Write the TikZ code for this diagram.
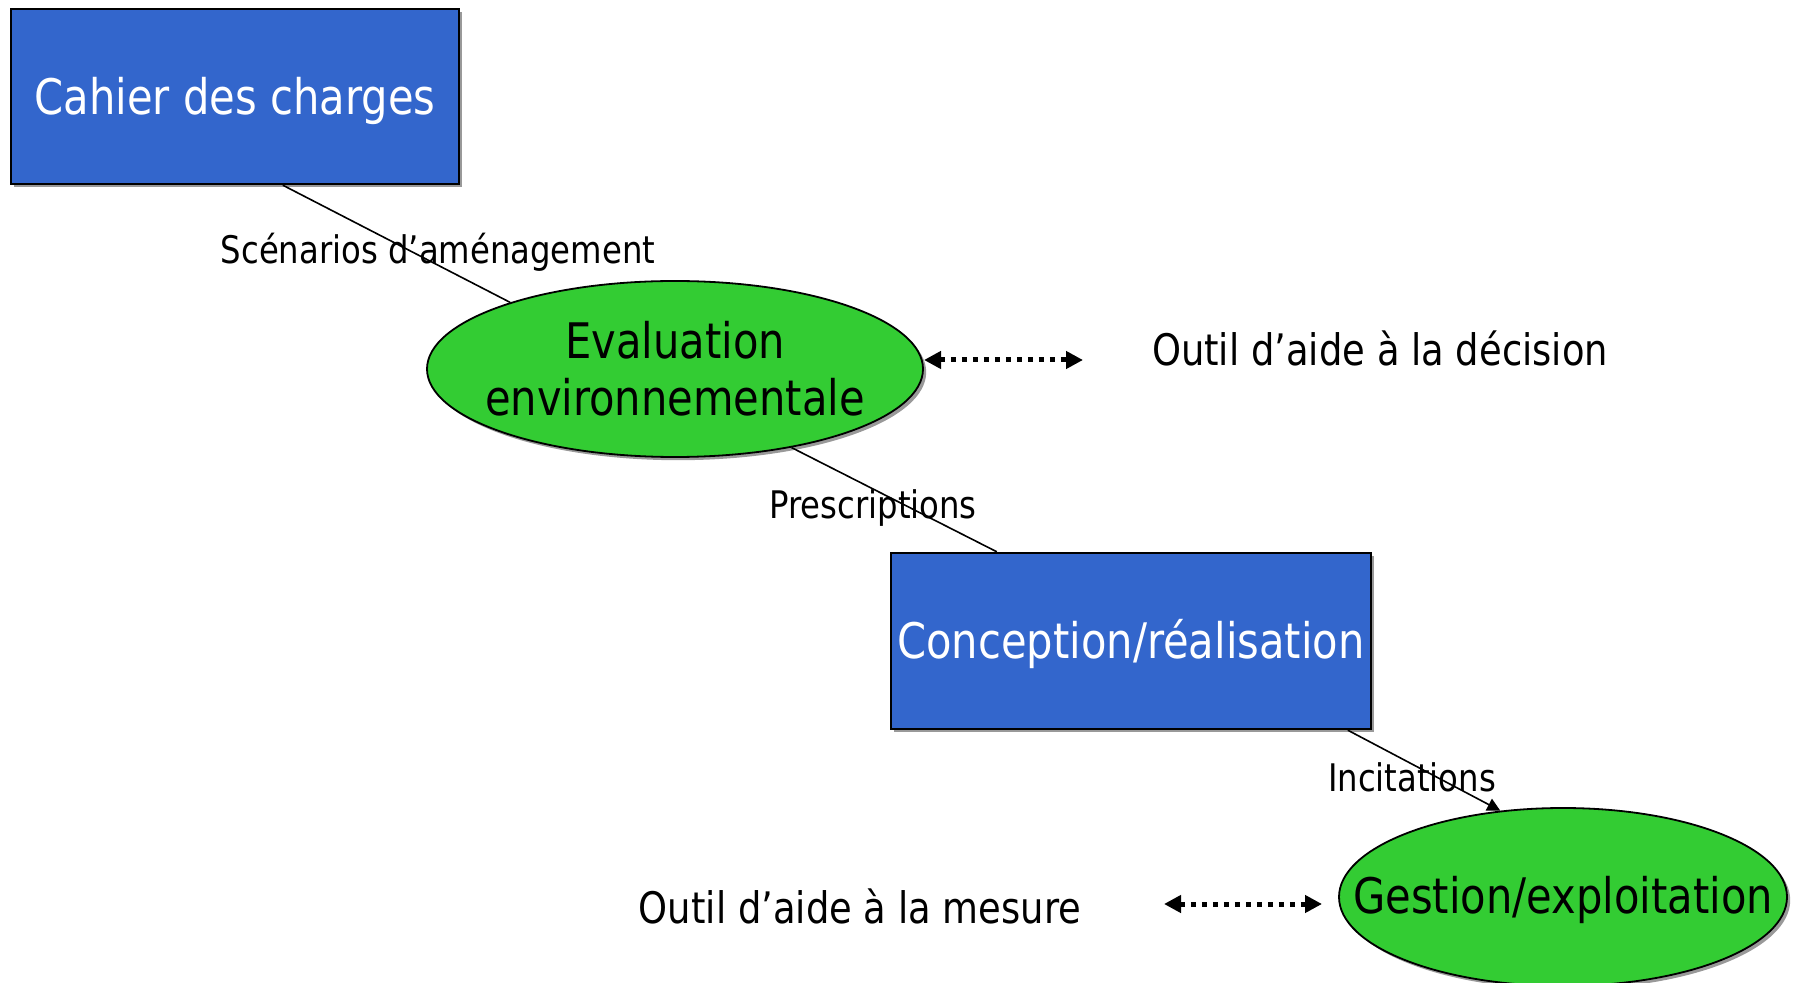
\documentclass[tikz,border=0pt]{standalone}
\usepackage{fontspec}
\setmainfont[FakeStretch=0.85]{DejaVu Sans}
\usetikzlibrary{shapes.geometric,shadows,arrows.meta,calc}
\definecolor{boxblue}{HTML}{3366CC}
\definecolor{ellgreen}{HTML}{33CC33}
\newcommand{\lowerby}[2]{\raisebox{-#1}[\height][\depth]{#2}}
\begin{document}
\begin{tikzpicture}[x=0.5pt,y=-0.5pt,
  shad/.style={drop shadow={shadow xshift=1.6pt,shadow yshift=-1.6pt,fill=gray!80,opacity=1}},
  bluebox/.style={rectangle,draw=black,line width=1.2pt,fill=boxblue,text=white,shad,
    inner sep=0pt,font=\fontsize{24.5pt}{28.5pt}\selectfont},
  greenell/.style={ellipse,draw=black,line width=0.9pt,fill=ellgreen,text=black,shad,
    inner sep=0pt,font=\fontsize{24.5pt}{28.5pt}\selectfont},
  lab/.style={inner sep=0pt,font=\fontsize{19pt}{22pt}\selectfont},
  biglab/.style={inner sep=0pt,font=\fontsize{21.7pt}{25pt}\selectfont},
  conn/.style={draw=black,line width=0.8pt},
  dotarrow/.style={line width=2.5pt,dash pattern=on 2.5pt off 3pt,
    {Triangle[length=8.5pt,width=8.5pt]}-{Triangle[length=8.5pt,width=8.5pt]}}
]
\useasboundingbox[fill=white] (0,0) rectangle (1798,983);

\node[bluebox,minimum width=224pt,minimum height=87.5pt] (cahier) at (235,96.5) {\lowerby{2.3pt}{Cahier des charges}};
\node[greenell,minimum width=248pt,minimum height=88pt] (eval) at (675,369)
  {\makebox[0pt]{\lowerby{3.5pt}{\begin{tabular}{@{}c@{}}Evaluation\\environnementale\end{tabular}}}};
\node[bluebox,minimum width=240pt,minimum height=88pt] (conc) at (1131,641) {\lowerby{1.7pt}{Conception/réalisation}};
\node[greenell,minimum width=224pt,minimum height=89pt] (gest) at (1563,897) {\makebox[0pt]{\lowerby{1.7pt}{Gestion/exploitation}}};

\draw[conn] ($(cahier.south west)+(273,0)$) -- (eval.158);
\draw[conn] (eval.-34) -- ($(conc.north west)+(107,0)$);
\draw[conn,-{Triangle[length=6.5pt,width=6.5pt]}] ($(conc.south west)+(458,0)$) -- (gest.126);

\node[lab] (scen) at (438,252) {Scénarios d’aménagement};
\node[lab] (presc) at (873,508) {Prescriptions};
\node[lab] (incit) at (1412,777) {Incitations};

\node[biglab] (odec) at (1380,348) {Outil d’aide à la décision};
\node[biglab] (omes) at (860,906) {Outil d’aide à la mesure};

\coordinate (d1a) at (924,360);
\coordinate (d1b) at (1083,360);
\coordinate (d2a) at (1164,904);
\coordinate (d2b) at (1322,904);
\draw[dotarrow] (d1a) -- (d1b);
\draw[dotarrow] (d2a) -- (d2b);
\end{tikzpicture}
\end{document}
